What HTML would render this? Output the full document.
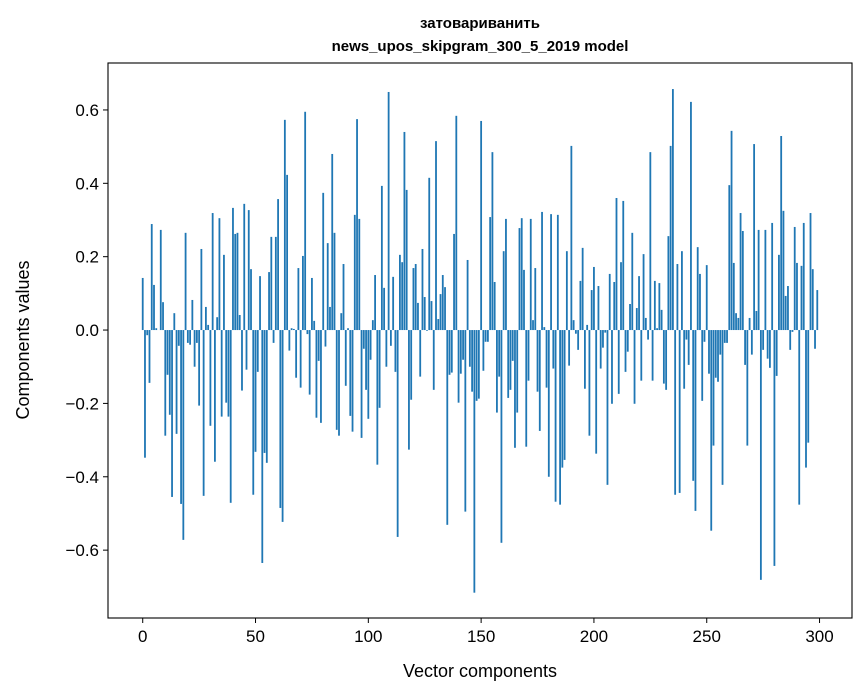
<!DOCTYPE html>
<html><head><meta charset="utf-8"><style>
body{margin:0;background:#fff;}
svg{display:block;font-family:"Liberation Sans","DejaVu Sans",sans-serif;}
</style></head><body>
<svg id="chart" width="867" height="696">
<rect width="867" height="696" fill="#fff"/>
<text x="480" y="28" text-anchor="middle" font-size="15" font-weight="bold">затовариванить</text>
<text x="480" y="51" text-anchor="middle" font-size="15" font-weight="bold">news_upos_skipgram_300_5_2019 model</text>
<g id="bars"></g>
<g id="axes"></g>
<text x="480" y="677" text-anchor="middle" font-size="18">Vector components</text>
<text transform="translate(29,340) rotate(-90)" text-anchor="middle" font-size="18">Components values</text>
</svg>
<script>
const values=[0.142,-0.348,-0.014,-0.144,0.289,0.123,0.005,0.0,0.273,0.076,-0.288,-0.122,-0.231,-0.455,0.046,-0.283,-0.043,-0.474,-0.572,0.265,-0.035,-0.04,0.082,-0.1,-0.035,-0.206,0.221,-0.452,0.063,0.014,-0.261,0.319,-0.359,0.035,0.305,-0.236,0.205,-0.198,-0.236,-0.471,0.333,0.262,0.265,0.041,-0.165,0.344,-0.108,0.327,0.166,-0.449,
-0.332,-0.114,0.147,-0.635,-0.335,-0.362,0.158,0.254,-0.035,0.254,0.357,-0.485,-0.523,0.573,0.423,-0.056,0.005,0.003,-0.13,0.169,-0.157,0.202,0.595,-0.011,-0.176,0.142,0.025,-0.239,-0.084,-0.253,0.374,-0.045,0.237,0.063,0.48,0.265,-0.272,-0.288,0.046,0.18,-0.152,0.005,-0.234,-0.277,0.314,0.575,0.303,-0.294,-0.051,-0.163,
-0.242,-0.081,0.027,0.15,-0.367,-0.212,0.393,0.115,-0.1,0.649,-0.043,0.145,-0.114,-0.564,0.205,0.185,0.54,0.382,-0.326,-0.19,0.169,0.18,0.074,-0.127,0.221,0.09,-0.002,0.415,0.079,-0.163,0.515,0.03,0.098,0.15,0.117,-0.531,-0.122,-0.116,0.262,0.584,-0.198,-0.119,-0.081,-0.495,0.191,-0.1,-0.168,-0.716,-0.193,-0.187,
0.57,-0.111,-0.032,-0.032,0.308,0.485,0.131,-0.225,-0.127,-0.58,0.215,0.303,-0.185,-0.163,-0.084,-0.321,-0.225,0.278,0.305,0.164,-0.318,-0.138,0.303,0.027,0.169,-0.168,-0.275,0.322,0.008,-0.157,-0.4,0.316,-0.105,-0.468,0.314,-0.476,-0.375,-0.354,0.215,-0.097,0.502,0.027,-0.01,-0.054,0.134,0.224,-0.16,0.014,-0.288,0.109,
0.172,-0.337,0.12,-0.105,-0.048,-0.007,-0.422,0.153,-0.201,0.131,0.36,-0.174,0.185,0.352,-0.114,-0.059,0.071,0.265,-0.201,0.06,0.147,-0.138,0.207,0.033,-0.026,0.485,-0.138,0.134,0.005,0.128,0.055,-0.146,-0.163,0.256,0.502,0.657,-0.449,0.18,-0.444,0.215,-0.16,-0.026,-0.095,0.622,-0.411,-0.493,0.226,0.153,-0.193,-0.032,
0.177,-0.119,-0.547,-0.315,-0.13,-0.141,-0.067,-0.422,-0.035,-0.035,0.395,0.543,0.183,0.046,0.033,0.319,0.27,-0.095,-0.315,0.033,-0.067,0.507,0.052,0.273,-0.681,-0.054,0.273,-0.078,-0.103,0.292,-0.643,-0.125,0.205,0.529,0.325,0.093,0.12,-0.054,-0.005,0.281,0.183,-0.476,0.175,0.292,-0.375,-0.307,0.319,0.166,-0.051,0.109];
const xTicks=[0,50,100,150,200,250,300];
const yTicks=[-0.6,-0.4,-0.2,0,0.2,0.4,0.6];
const L=108,R=852,T=63,B=618;
const xMin=-15.39,xMax=314.39,yMin=-0.785,yMax=0.728;
const xs=v=>L+(v-xMin)/(xMax-xMin)*(R-L);
const ys=v=>B-(v-yMin)/(yMax-yMin)*(B-T);
const NS="http://www.w3.org/2000/svg";
const bars=document.getElementById('bars');
const axes=document.getElementById('axes');
values.forEach((v,i)=>{
  const r=document.createElementNS(NS,'rect');
  const x0=xs(i-0.4),x1=xs(i+0.4);
  const y0=ys(Math.max(v,0)),y1=ys(Math.min(v,0));
  r.setAttribute('x',x0);r.setAttribute('width',x1-x0);
  r.setAttribute('y',y0);r.setAttribute('height',Math.max(y1-y0,0.01));
  r.setAttribute('fill','#1f77b4');
  
  
  bars.appendChild(r);
});
const frame=document.createElementNS(NS,'rect');
frame.setAttribute('x',L);frame.setAttribute('y',T);frame.setAttribute('width',R-L);frame.setAttribute('height',B-T);
frame.setAttribute('fill','none');frame.setAttribute('stroke','#000');frame.setAttribute('stroke-width','1.1');


axes.appendChild(frame);
xTicks.forEach(t=>{
  const l=document.createElementNS(NS,'line');
  l.setAttribute('x1',xs(t));l.setAttribute('x2',xs(t));l.setAttribute('y1',B);l.setAttribute('y2',B+5);
  l.setAttribute('stroke','#000');
  
  
  axes.appendChild(l);
  const tx=document.createElementNS(NS,'text');
  tx.setAttribute('x',xs(t));tx.setAttribute('y',B+24);tx.setAttribute('text-anchor','middle');tx.setAttribute('font-size','17');
  tx.textContent=t;
  
  
  axes.appendChild(tx);
});
yTicks.forEach(t=>{
  const l=document.createElementNS(NS,'line');
  l.setAttribute('x1',L-5);l.setAttribute('x2',L);l.setAttribute('y1',ys(t));l.setAttribute('y2',ys(t));
  l.setAttribute('stroke','#000');
  
  
  axes.appendChild(l);
  const tx=document.createElementNS(NS,'text');
  tx.setAttribute('x',L-9);tx.setAttribute('y',ys(t)+6);tx.setAttribute('text-anchor','end');tx.setAttribute('font-size','17');
  tx.textContent=(t<0?'\u2212':'')+Math.abs(t).toFixed(1);
  
  
  axes.appendChild(tx);
});
</script>
</body></html>
